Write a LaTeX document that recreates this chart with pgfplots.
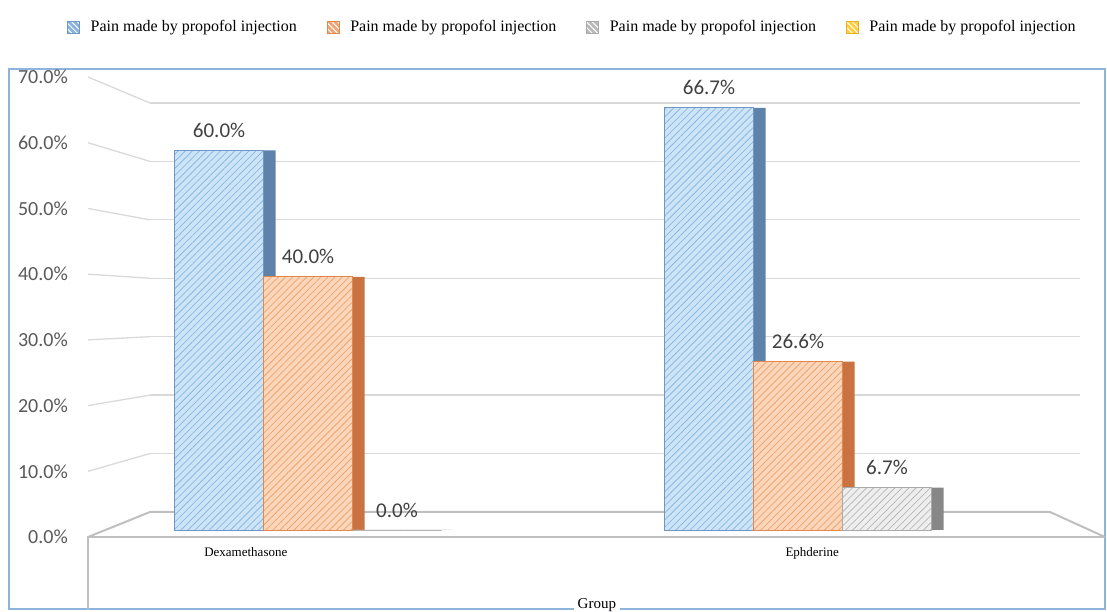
\documentclass[border=0pt]{standalone}
\usepackage{fontspec}
\setmainfont{Liberation Serif}
\newfontfamily\carlito{Carlito}
\usepackage{pgfplots}
\pgfplotsset{compat=1.18}
\usetikzlibrary{patterns.meta}
\definecolor{framec}{RGB}{140,180,220}
\definecolor{gridc}{RGB}{217,217,217}
\definecolor{floorc}{RGB}{191,191,191}
\definecolor{bluefill}{RGB}{205,228,247}
\definecolor{bluehatch}{RGB}{140,185,225}
\definecolor{blueedge}{RGB}{110,150,200}
\definecolor{blueside}{RGB}{95,130,170}
\definecolor{orfill}{RGB}{251,214,186}
\definecolor{orhatch}{RGB}{237,165,115}
\definecolor{oredge}{RGB}{228,135,75}
\definecolor{orside}{RGB}{200,115,65}
\definecolor{gyfill}{RGB}{238,238,238}
\definecolor{gyhatch}{RGB}{185,185,185}
\definecolor{gyedge}{RGB}{170,170,170}
\definecolor{gyside}{RGB}{135,135,135}
\definecolor{yefill}{RGB}{255,205,60}
\definecolor{yeedge}{RGB}{230,175,30}
\definecolor{labelc}{RGB}{64,64,64}
\definecolor{tickc}{RGB}{89,89,89}
\tikzset{hatch/.style={postaction={pattern={Lines[angle=45,distance=5bp,line width=0.8bp]},pattern color=#1}}}
\begin{document}
\begin{tikzpicture}[x=1bp,y=1bp]
\path[use as bounding box] (0,0) rectangle (1107,612);
% outer frame
\draw[framec, line width=2bp] (9,3) rectangle (1105,543);
% back wall gridlines
\begin{axis}[at={(150bp,100bp)}, anchor=south west, width=930bp, height=409bp,
  scale only axis, xmin=0, xmax=1, ymin=0, ymax=70,
  ytick={10,20,...,70}, xtick=\empty, yticklabels={},
  ymajorgrids, grid style={gridc, line width=1.3bp},
  axis line style={draw=none}, major tick length=0pt]
\end{axis}
% left wall stubs
\foreach \v in {10,20,...,70}{
  \draw[gridc, line width=1.3bp] (88,{75+6.571*\v}) -- (150,{100+5.843*\v});
}
% floor
\draw[floorc, line width=2bp] (88,3) -- (88,75) -- (1105,75);
\draw[floorc, line width=2bp] (88,75) -- (150,100) -- (1050,100) -- (1105,75);
% tick labels
\begin{axis}[at={(88bp,75bp)}, anchor=south west, width=10bp, height=460bp,
  scale only axis, xmin=0, xmax=1, ymin=0, ymax=70,
  ytick={0,10,...,70}, xtick=\empty,
  /pgf/number format/assume math mode=true,
  yticklabel={\pgfmathprintnumber[fixed,fixed zerofill,precision=1]{\tick}\%},
  yticklabel style={font=\carlito\fontsize{20bp}{22bp}\selectfont, text=tickc, inner sep=0pt, xshift=-20bp},
  axis line style={draw=none}, major tick length=0pt]
\end{axis}
% bars
\begin{axis}[at={(90bp,82bp)}, anchor=south west, width=990bp, height=443bp,
  scale only axis, clip=false,
  xmin=-0.445, xmax=1.5755, ymin=0, ymax=70,
  ybar, bar width=89bp,
  axis line style={draw=none}, major tick length=0pt,
  ytick=\empty,
  xtick={-0.127,1.029}, xticklabels={Dexamethasone,Ephderine},
  xticklabel style={font=\fontsize{13bp}{15bp}\selectfont, text=black, inner sep=0pt, yshift=-17bp},
  xlabel={Group},
  xlabel style={at={(axis description cs:0.512,-0.169)}, anchor=center, fill=white, inner sep=4bp, font=\fontsize{15bp}{17bp}\selectfont},
  /pgf/number format/assume math mode=true,
  legend columns=4,
  legend cell align=left,
  legend image code/.code={\draw[#1] (0bp,-6bp) rectangle (12bp,6bp);},
  legend style={draw=none, fill=none, at={(axis description cs:0.487,1.1354)}, anchor=center,
    font=\fontsize{16bp}{18bp}\selectfont,
    /tikz/every odd column/.append style={column sep=9bp},
    /tikz/every even column/.append style={column sep=28bp}},
  every node near coord/.append style={font=\carlito\fontsize{21bp}{23bp}\selectfont, text=labelc, yshift=9bp},
]
% side faces
\addplot[fill=blueside, draw=none, bar shift=-77bp, forget plot] coordinates {(0,60.0) (1,66.7)};
\addplot[fill=orside, draw=none, bar shift=12bp, forget plot] coordinates {(0,40.0) (1,26.6)};
\addplot[fill=gyside, draw=none, bar shift=101bp, forget plot] coordinates {(0,0.0) (1,6.7)};
% front faces
\addplot[fill=bluefill, draw=blueedge, line width=0.8bp, hatch=bluehatch, bar shift=-89bp, forget plot,
  nodes near coords={\pgfmathprintnumber[fixed,fixed zerofill,precision=1]{\pgfplotspointmeta}\%}]
  coordinates {(0,60.0) (1,66.7)};
\addplot[fill=orfill, draw=oredge, line width=0.8bp, hatch=orhatch, bar shift=0bp, forget plot,
  nodes near coords={\pgfmathprintnumber[fixed,fixed zerofill,precision=1]{\pgfplotspointmeta}\%}]
  coordinates {(0,40.0) (1,26.6)};
\addplot[fill=gyfill, draw=gyedge, line width=0.8bp, hatch=gyhatch, bar shift=89bp, forget plot,
  nodes near coords={\pgfmathprintnumber[fixed,fixed zerofill,precision=1]{\pgfplotspointmeta}\%}]
  coordinates {(0,0.0) (1,6.7)};
\addlegendimage{fill=bluehatch!80!blueedge, draw=blueedge, postaction={pattern={Lines[angle=-45,distance=4bp,line width=1bp]},pattern color=white}}
\addlegendentry{Pain made by propofol injection}
\addlegendimage{fill=orhatch, draw=oredge, postaction={pattern={Lines[angle=-45,distance=4bp,line width=1bp]},pattern color=white}}
\addlegendentry{Pain made by propofol injection}
\addlegendimage{fill=gyhatch, draw=gyedge, postaction={pattern={Lines[angle=-45,distance=4bp,line width=1bp]},pattern color=white}}
\addlegendentry{Pain made by propofol injection}
\addlegendimage{fill=yefill, draw=yeedge, postaction={pattern={Lines[angle=-45,distance=4bp,line width=1bp]},pattern color=white}}
\addlegendentry{Pain made by propofol injection}
\end{axis}
\end{tikzpicture}
\end{document}
